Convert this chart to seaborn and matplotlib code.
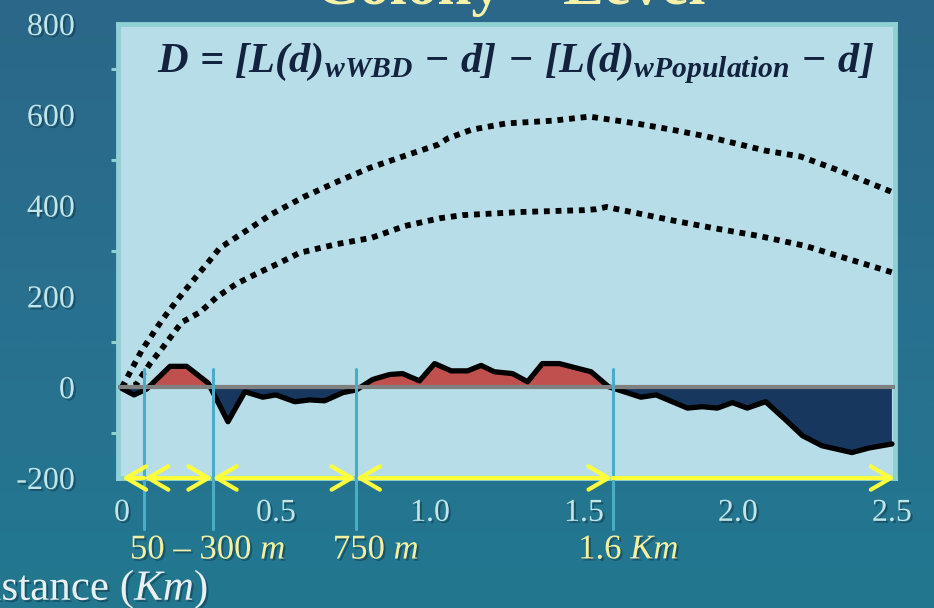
import numpy as np
import matplotlib
matplotlib.use("Agg")
import matplotlib.pyplot as plt
import seaborn as sns
from matplotlib import patheffects as pe
from matplotlib.patches import FancyArrowPatch
from matplotlib.colors import LinearSegmentedColormap

# ---------------- data ----------------
dist_upper = [0, 0.064, 0.129, 0.177, 0.226, 0.275, 0.318, 0.393, 0.485, 0.593, 0.70,
              0.804, 0.911, 1.025, 1.058, 1.134, 1.247, 1.398, 1.518, 1.669, 1.787,
              1.90, 2.09, 2.204, 2.317, 2.5]
val_upper = [0, 81, 147, 190, 231, 271, 307, 340, 381, 420, 453,
             483, 508, 534, 548, 567, 581, 587, 596, 581, 567,
             552, 521, 508, 480, 430]

dist_lower = [0, 0.045, 0.091, 0.133, 0.194, 0.253, 0.307, 0.372, 0.437, 0.512, 0.577,
              0.696, 0.81, 0.918, 1.031, 1.106, 1.30, 1.501, 1.539, 1.573, 1.653,
              1.798, 1.916, 2.069, 2.22, 2.37, 2.5]
val_lower = [0, 5, 52, 88, 143, 165, 198, 228, 250, 274, 296,
             315, 329, 355, 372, 379, 386, 390, 392, 397, 386,
             366, 351, 333, 311, 280, 253]

dist_d = [0, 0.039, 0.08, 0.156, 0.21, 0.28, 0.344, 0.399, 0.457, 0.50, 0.561, 0.61,
          0.658, 0.717, 0.761, 0.814, 0.869, 0.911, 0.966, 1.015, 1.069, 1.122, 1.166,
          1.209, 1.268, 1.317, 1.365, 1.42, 1.523, 1.58, 1.685, 1.734, 1.836, 1.884,
          1.933, 1.982, 2.03, 2.09, 2.155, 2.21, 2.273, 2.37, 2.425, 2.5]
val_d = [-3, -17, -4, 46, 46, 9, -76, -10, -22, -17, -32, -28,
         -30, -12, -6, 17, 28, 30, 14, 52, 36, 36, 48,
         34, 30, 12, 52, 52, 34, 1, -22, -17, -46, -43,
         -46, -34, -46, -32, -72, -107, -129, -144, -134, -125]

x_ticks = [0, 0.5, 1.0, 1.5, 2.0, 2.5]
x_tick_labels = ["0", "0.5", "1.0", "1.5", "2.0", "2.5"]
y_ticks = [-200, 0, 200, 400, 600, 800]
y_tick_labels = ["-200", "0", "200", "400", "600", "800"]
y_minor_ticks = [-100, 100, 300, 500, 700]

scale_breaks = [0.072, 0.294, 0.759, 1.593]
break_labels = ["50 – 300 $m$", "750 $m$", "1.6 $Km$"]
break_label_x = [0.279, 0.825, 1.645]

formula = r"$\mathbf{D\,=\,[L(d)_{wWBD}\,-\,d]\,-\,[L(d)_{wPopulation}\,-\,d]}$"
title = "Colony – Level"
xlabel = "Distance ($Km$)"

# ---------------- style ----------------
sns.set_style("white")
plt.rcParams['font.family'] = ['Liberation Serif', 'DejaVu Serif']
plt.rcParams['mathtext.fontset'] = 'custom'
plt.rcParams['mathtext.rm'] = 'Liberation Serif'
plt.rcParams['mathtext.it'] = 'Liberation Serif:italic'
plt.rcParams['mathtext.bf'] = 'Liberation Serif:italic:bold'

W, H = 934, 608
fig = plt.figure(figsize=(W / 100, H / 100), dpi=100)

# background gradient
bg = fig.add_axes([0, 0, 1, 1], zorder=-10)
grad = np.linspace(0, 1, 256).reshape(-1, 1)
cmap = LinearSegmentedColormap.from_list('bg', ['#2b6788', '#29708f', '#22788f'])
bg.imshow(grad, aspect='auto', cmap=cmap, extent=[0, 1, 0, 1], origin='upper')
bg.axis('off')

shadow = [pe.withSimplePatchShadow(offset=(1.5, -1.5), shadow_rgbFace='#0b2b3b', alpha=0.45)]

ax = fig.add_axes([118 / W, 130 / H, 777 / W, 454 / H])
ax.set_facecolor('#b7dee8')
ax.set_xlim(-0.013, 2.51)
ax.set_ylim(-200, 800)

xd = np.array(dist_d)
yd = np.array(val_d)
ax.fill_between(xd, yd, 0, where=yd >= 0, interpolate=True, color='#c0504d', lw=0, zorder=2)
ax.fill_between(xd, yd, 0, where=yd <= 0, interpolate=True, color='#17375e', lw=0, zorder=2)

sns.lineplot(x=dist_upper, y=val_upper, ax=ax, color='black', lw=4.2,
             linestyle=(0, (1, 1)), dash_capstyle='butt', sort=False, zorder=3)
sns.lineplot(x=dist_lower, y=val_lower, ax=ax, color='black', lw=4.2,
             linestyle=(0, (1, 1)), dash_capstyle='butt', sort=False, zorder=3)
sns.lineplot(x=dist_d, y=val_d, ax=ax, color='black', lw=3.8, sort=False, zorder=4)

ax.axhline(0, color='#808080', lw=3, zorder=5)

for xv in scale_breaks:
    ax.plot([xv, xv], [39, -313], color='#4bacc6', lw=2.2, clip_on=False, zorder=6)

yellow = '#ffff3c'
ends = [0] + scale_breaks + [2.51]
styles = ['<-', '<->', '<->', '<->', '->']
for i in range(len(ends) - 1):
    arr = FancyArrowPatch((ends[i], -200), (ends[i + 1], -200),
                          arrowstyle=f"{styles[i]},head_length=0.72,head_width=0.42",
                          mutation_scale=20, color=yellow, lw=3,
                          shrinkA=0, shrinkB=0, clip_on=False, zorder=7,
                          transform=ax.transData)
    ax.add_patch(arr)

for xl, lab in zip(break_label_x, break_labels):
    ax.text(xl, -359, lab, ha='center', va='center', fontsize=25,
            color='#f4f0a2', clip_on=False, path_effects=shadow)

ax.set_xticks(x_ticks, x_tick_labels)
ax.set_yticks(y_ticks, y_tick_labels)
ax.set_yticks(y_minor_ticks, minor=True)
ax.tick_params(axis='both', which='major', length=11, width=2.2, color='#8fd0d4',
               labelcolor='#c2e6e8', labelsize=23, direction='out')
ax.tick_params(axis='x', which='major', pad=4)
ax.tick_params(axis='y', which='major', pad=20)
ax.tick_params(axis='y', which='minor', length=5, width=2.2, color='#8fd0d4', left=True)
for lbl in ax.get_xticklabels() + ax.get_yticklabels():
    lbl.set_path_effects(shadow)

for sp in ax.spines.values():
    sp.set_color('#8fd0d4')
    sp.set_linewidth(3.5)
    sp.set_visible(True)

ax.set_xlabel('')
ax.set_ylabel('')

ax.text(0.512, 0.914, formula, transform=ax.transAxes, ha='center', va='center',
        fontsize=30.5, color='#13233f', zorder=8)

fig.text(208 / W, 1 - 590 / H, xlabel, ha='right', va='center', fontsize=31,
         color='#e8f0f2', path_effects=shadow)
fig.text(510 / W, 1 - 4 / H, title, ha='center', va='baseline', fontsize=44,
         fontweight='bold', color='#f7f1a8')

fig.savefig('out.png', dpi=100)
